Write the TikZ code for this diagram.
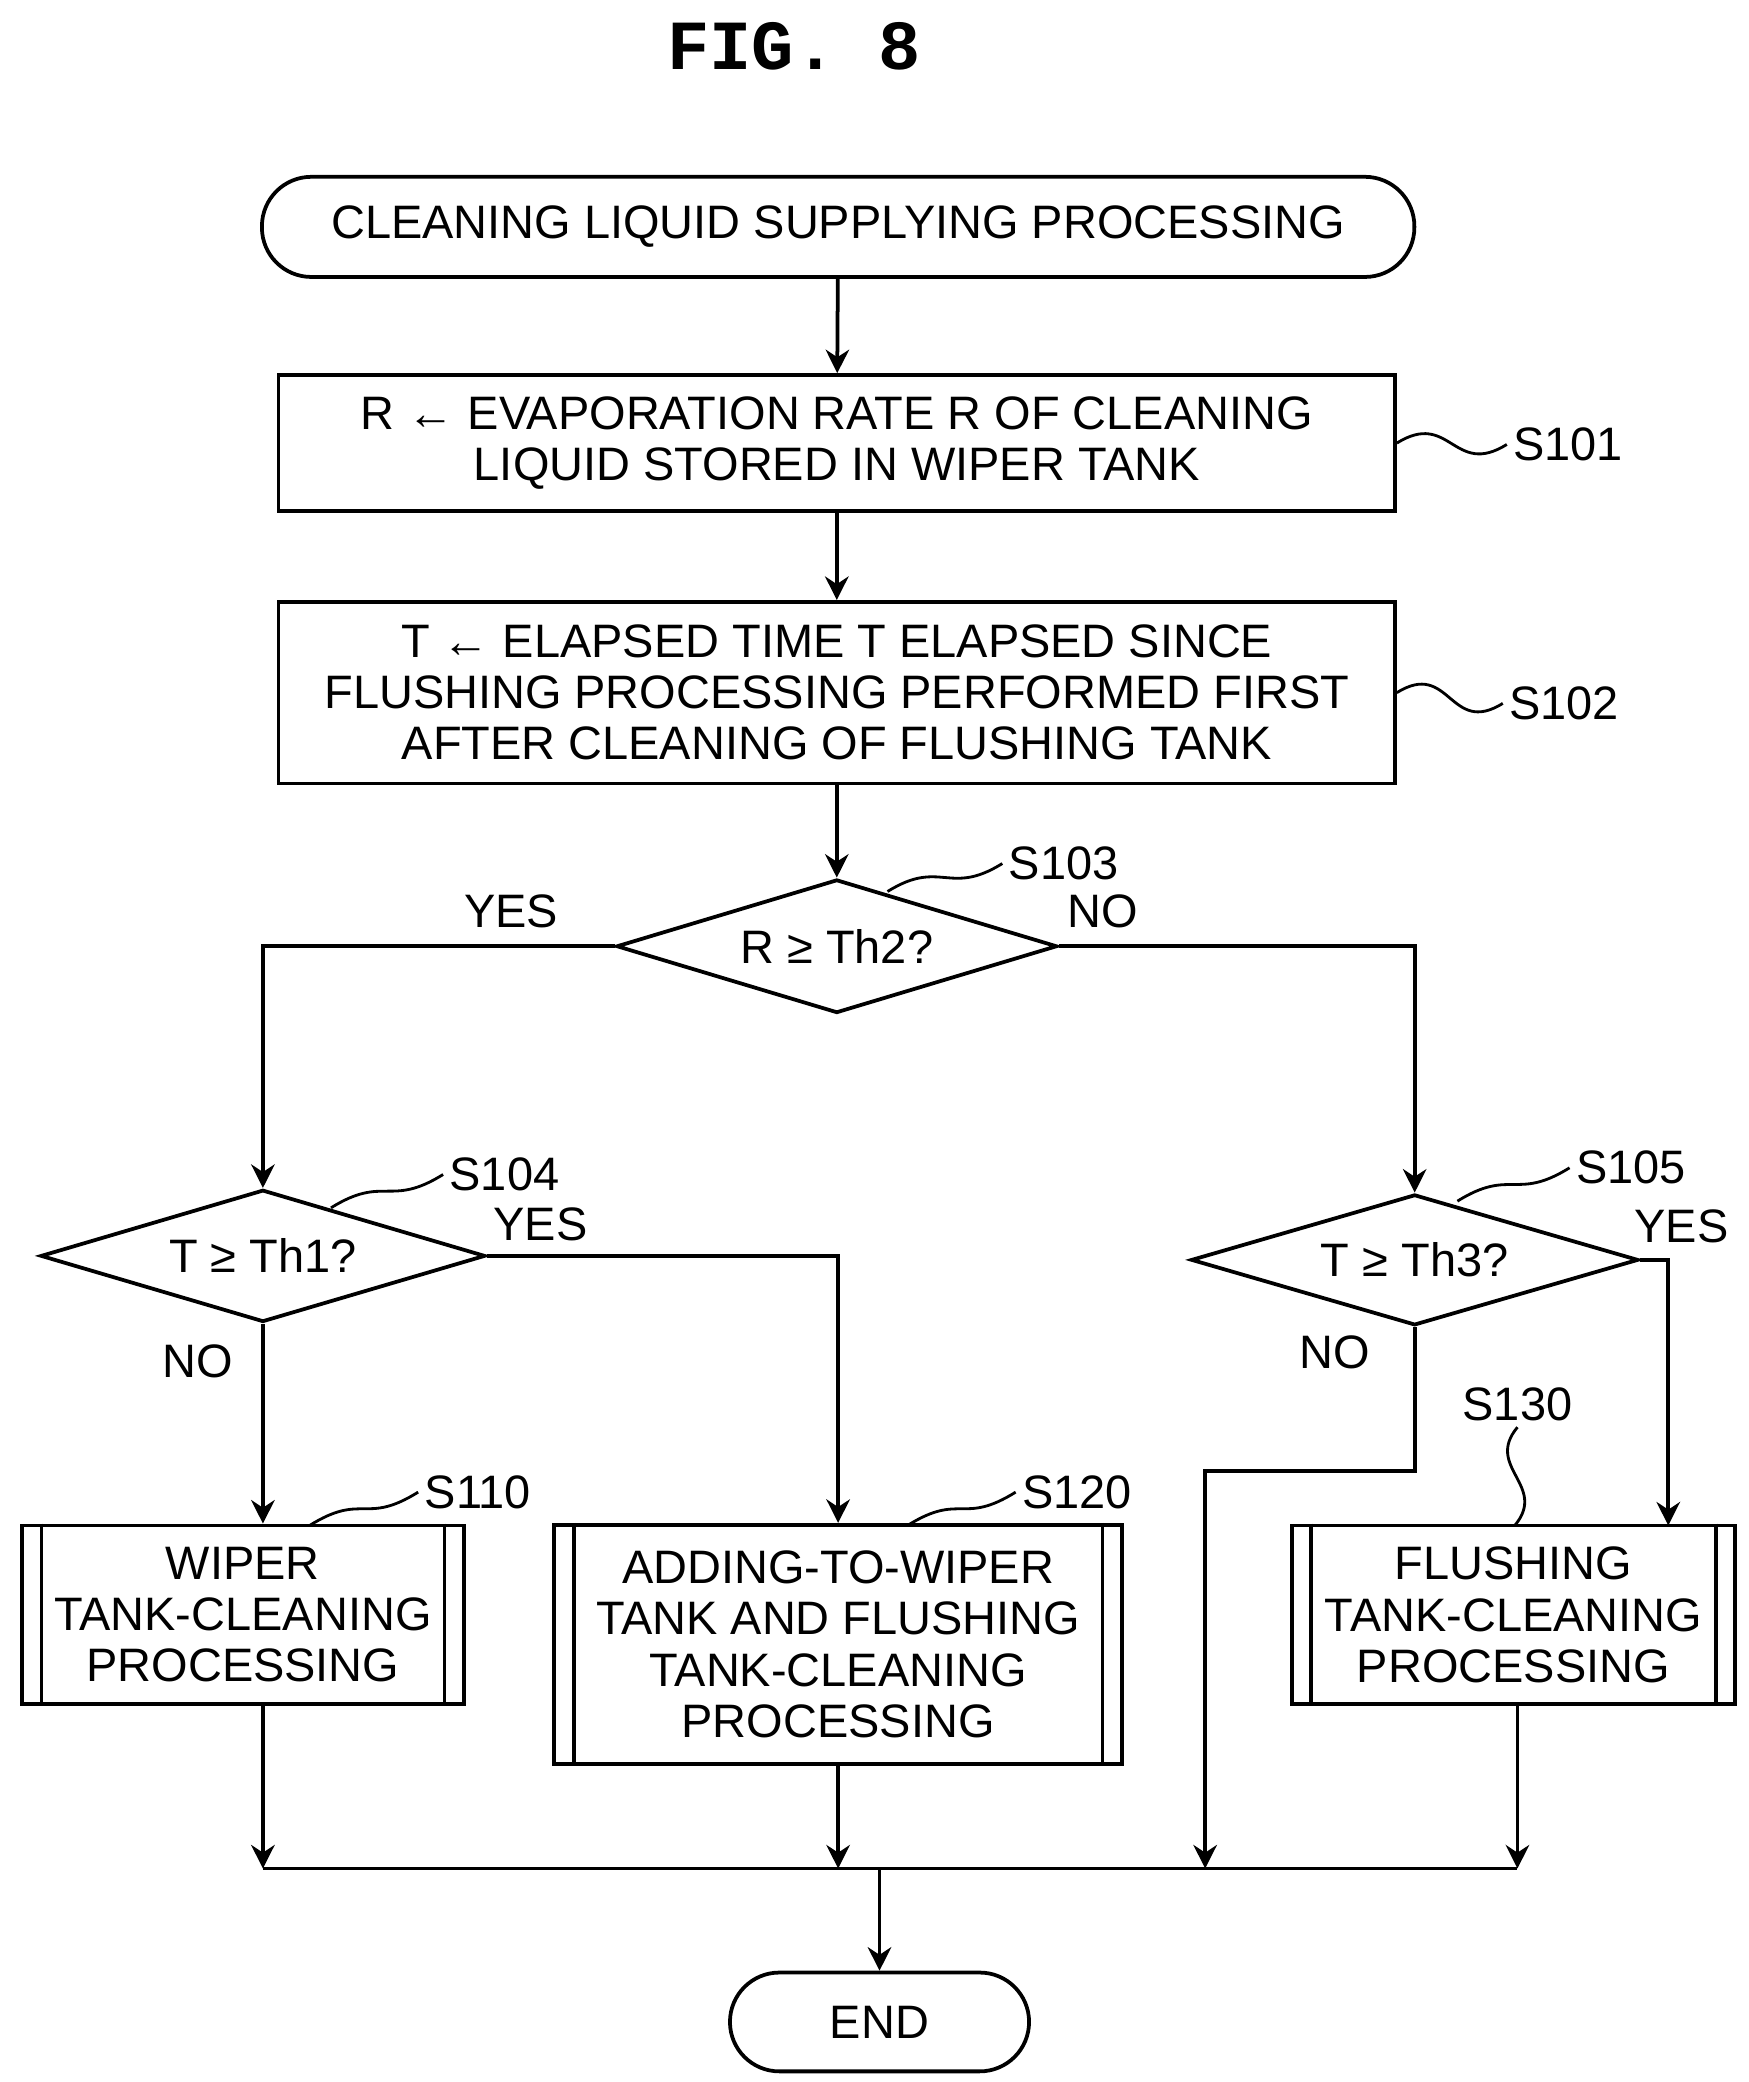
\documentclass[tikz,border=0pt]{standalone}
\usepackage{fontspec}
\setmainfont{Liberation Sans}
\setmonofont{Liberation Mono}
\usetikzlibrary{shapes.geometric,arrows.meta}

\tikzset{
    box/.style={draw, thick, rectangle, align=center, inner sep=0pt},
    dec/.style={draw, thick, diamond, aspect=3.3, inner sep=0pt},
    term/.style={draw, thick, rectangle, rounded corners=0.37cm, inner sep=0pt},
    lbl/.style={inner sep=1pt},
}
% double side lines of a predefined process
\newcommand{\procsides}[1]{%
    \draw[thick] ([xshift=0.16cm]#1.north west) -- ([xshift=0.16cm]#1.south west);
    \draw[thick] ([xshift=-0.16cm]#1.north east) -- ([xshift=-0.16cm]#1.south east);}
% wavy leader to a step label
\newcommand{\leader}[2]{%
    \draw[semithick] (#1) .. controls +(40,-25) and +(-40,25) .. (#2);}

\begin{document}
\begin{tikzpicture}[
    x=0.01cm, y=-0.01cm,
    thick, % line style
    > = {Stealth[length=5pt,width=5pt]}, % arrow head style
    font=\fontsize{10}{10.9}\selectfont,
]
\useasboundingbox (0,0) rectangle (1310,1560);

\node at (595,35) {\ttfamily\bfseries\fontsize{15}{16}\selectfont FIG. 8};

\node[term, minimum width=8.63cm, minimum height=0.75cm] (start) at (628,170) {CLEANING LIQUID SUPPLYING PROCESSING};
\node[box, minimum width=8.36cm, minimum height=1.02cm] (s101) at (627,332) {R ← EVAPORATION RATE R OF CLEANING\\LIQUID STORED IN WIPER TANK};
\node[box, minimum width=8.36cm, minimum height=1.36cm] (s102) at (627,519) {T ← ELAPSED TIME T ELAPSED SINCE\\FLUSHING PROCESSING PERFORMED FIRST\\AFTER CLEANING OF FLUSHING TANK};
\node[dec, minimum width=3.30cm, minimum height=1.00cm] (d103) at (627,709) {R ≥ Th2?};
\node[dec, minimum width=3.33cm, minimum height=0.99cm] (d104) at (197,941) {T ≥ Th1?};
\node[dec, minimum width=3.35cm, minimum height=0.98cm] (d105) at (1060,944) {T ≥ Th3?};
\node[box, minimum width=3.31cm, minimum height=1.34cm] (s110) at (182,1210) {WIPER\\TANK-CLEANING\\PROCESSING};
\node[box, minimum width=4.25cm, minimum height=1.79cm] (s120) at (628,1232) {ADDING-TO-WIPER\\TANK AND FLUSHING\\TANK-CLEANING\\PROCESSING};
\node[box, minimum width=3.32cm, minimum height=1.34cm] (s130) at (1134,1210) {FLUSHING\\TANK-CLEANING\\PROCESSING};
\node[term, minimum width=2.24cm, minimum height=0.74cm] (end) at (659,1515) {END};
\procsides{s110}
\procsides{s120}
\procsides{s130}

% step labels
\node[lbl] (l101) at (1175,333) {S101};
\node[lbl] (l102) at (1172,527) {S102};
\node[lbl] (l103) at (797,647) {S103};
\node[lbl] (l104) at (378,880) {S104};
\node[lbl] (l105) at (1222,875) {S105};
\node[lbl] (l110) at (358,1118) {S110};
\node[lbl] (l120) at (807,1118) {S120};
\node[lbl] (l130) at (1137,1052) {S130};
\leader{s101.east}{l101.west}
\leader{s102.east}{l102.west}
\leader{665,668}{l103.west}
\leader{248,905}{l104.west}
\leader{1092,900}{l105.west}
\leader{232,1143}{l110.west}
\leader{680,1143}{l120.west}
\draw[semithick] (l130.south) .. controls +(-25,30) and +(25,-30) .. (1135,1143);

% answers
\node at (383,683) {YES};
\node at (826,683) {NO};
\node at (405,917) {YES};
\node at (148,1020) {NO};
\node at (1260,919) {YES};
\node at (1000,1013) {NO};

% connectors
\draw[->] (start) -- (s101);
\draw[->] (s101) -- (s102);
\draw[->] (s102) -- (d103);
\draw[->] (d103.west) -| (d104.north);
\draw[->] (d103.east) -| (d105.north);
\draw[->] (d104.east) -| (s120.north);
\draw[->] (d104.south) -- (d104.south |- s110.north);
\draw[->] (d105.east) -| (1250,1143);

\coordinate (mL) at (197,1400);
\coordinate (mR) at (1137,1400);
\coordinate (k1) at (1060,1102);
\coordinate (k2) at (903,1102);
\draw (mL) -- (mR);
\draw[->] (d104.south |- s110.south) -- (mL);
\draw[->] (s120.south) -- (s120.south |- mL);
\draw[->] (d105.south) -- (k1) -- (k2) -- (k2 |- mL);
\draw[->] (mR |- s130.south) -- (mR);
\draw[->] (end.north |- mL) -- (end.north);
\end{tikzpicture}
\end{document}
